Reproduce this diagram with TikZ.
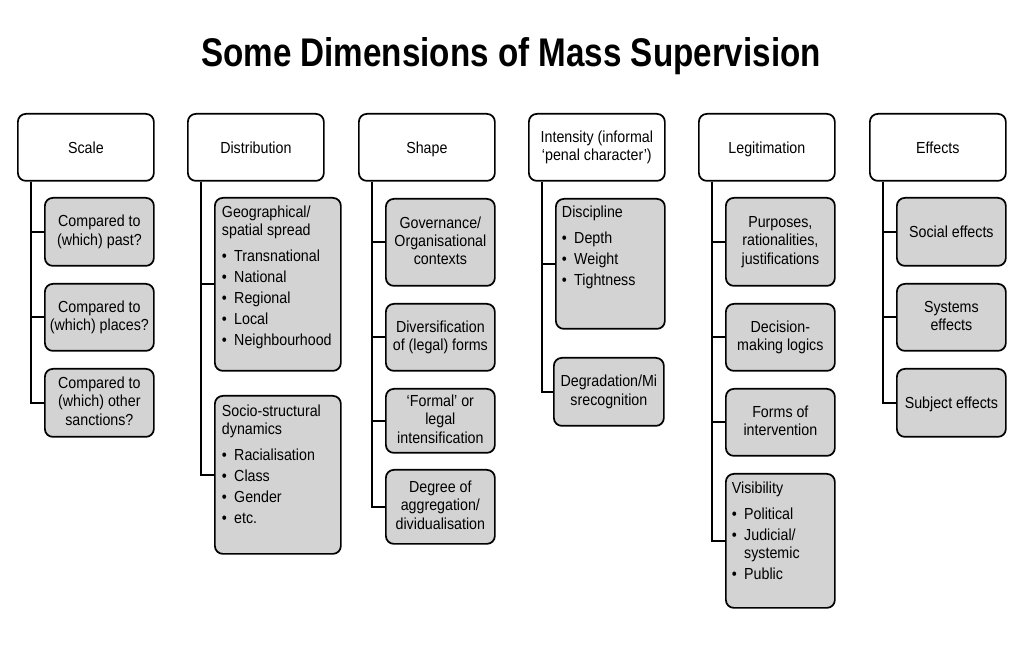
\documentclass[tikz,border=0pt]{standalone}
\usepackage{fontspec}
\setmainfont{Liberation Sans}
\newfontfamily\bodyfont[FakeStretch=0.89]{Liberation Sans}
\newfontfamily\titlefont[FakeStretch=0.83]{Liberation Sans}
\definecolor{boxgray}{RGB}{211,211,211}
\newcommand{\itm}[1]{\makebox[9.2pt][l]{\textbullet}#1}
\newcommand{\topstrut}{\rule{0pt}{11.6pt}}
\newcommand{\botstrut}{\rule[-2.5pt]{0pt}{2.5pt}}
\begin{document}
\begin{tikzpicture}[x=0.75pt,y=-0.75pt,
  txt/.style={font=\bodyfont\fontsize{12}{13.5}\selectfont},
  ctxt/.style={font=\bodyfont\fontsize{12}{13.8}\selectfont},
  sz/.style 2 args={minimum width=#1*0.75pt, minimum height=#2*0.75pt},
  ctr/.style={ctxt, align=center, execute at begin node=\topstrut, execute at end node=\botstrut},
  hdr/.style={ctr, draw, line width=1.3pt, rounded corners=6pt, fill=white, inner sep=0pt, anchor=north west, sz={136}{67}},
  sub/.style={ctr, draw, line width=1.3pt, rounded corners=6pt, fill=boxgray, inner sep=0pt, anchor=north west},
  lbox/.style={txt, draw, line width=1.3pt, rounded corners=6pt, fill=boxgray, inner sep=0pt, anchor=north west},
  lst/.style={txt, anchor=north west, inner sep=0pt, align=left},
  conn/.style={line width=1.3pt}]
\useasboundingbox (0,0) rectangle (1024,655);

\node[font=\titlefont\bfseries\fontsize{30}{36}\selectfont, anchor=base, inner sep=0pt] (title) at (511,67) {Some Dimensions of Mass Supervision};

% headers
\node[hdr] (scale) at (17,113) {Scale};
\node[hdr] (dist) at (187,113) {Distribution};
\node[hdr] (shape) at (358,113) {Shape};
\node[hdr] (inten) at (528,113) {Intensity (informal\\‘penal character’)};
\node[hdr] (legit) at (698,113) {Legitimation};
\node[hdr] (eff) at (869,113) {Effects};

% Scale
\node[sub, sz={109}{68}] (s1) at (44,197) {Compared to\\(which) past?};
\node[sub, sz={109}{67}] (s2) at (44,283) {Compared to\\(which) places?};
\node[sub, sz={109}{68}] (s3) at (44,368) {Compared to\\(which) other\\sanctions?};

% Distribution
\node[lbox, sz={126}{173}] (d1) at (214,197) {};
\node[lst] (d1t) at (221.7,206) {Geographical/\\spatial spread\\[5.8pt]\itm{Transnational}\\[2.25pt]\itm{National}\\[2.25pt]\itm{Regional}\\[2.25pt]\itm{Local}\\[2.25pt]\itm{Neighbourhood}};
\node[lbox, sz={126}{158}] (d2) at (214,395) {};
\node[lst] (d2t) at (221.7,405) {Socio-structural\\dynamics\\[5.8pt]\itm{Racialisation}\\[2.25pt]\itm{Class}\\[2.25pt]\itm{Gender}\\[2.25pt]\itm{etc.}};

% Shape
\node[sub, sz={109}{87}] (sh1) at (385,198) {Governance/\\Organisational\\contexts};
\node[sub, sz={109}{67}] (sh2) at (385,303) {Diversification\\of (legal) forms};
\node[sub, sz={109}{64}] (sh3) at (385,388) {‘Formal’ or\\legal\\intensification};
\node[sub, sz={109}{74}] (sh4) at (385,469) {Degree of\\aggregation/\\dividualisation};

% Intensity
\node[lbox, sz={109}{130}] (i1) at (555,198) {};
\node[lst] (i1t) at (561.7,206) {Discipline\\[5.8pt]\itm{Depth}\\[2.25pt]\itm{Weight}\\[2.25pt]\itm{Tightness}};
\node[sub, sz={110}{68}] (i2) at (553,357) {Degradation/Mi\\srecognition};

% Legitimation
\node[sub, sz={109}{88}] (l1) at (725,197) {Purposes,\\rationalities,\\justifications};
\node[sub, sz={109}{67}] (l2) at (725,303) {Decision-\\making logics};
\node[sub, sz={109}{67}] (l3) at (725,388) {Forms of\\intervention};
\node[lbox, sz={109}{134}] (l4) at (725,473) {};
\node[lst] (l4t) at (731.7,482) {Visibility\\[5.8pt]\itm{Political}\\[2.25pt]\itm{Judicial/}\\\hspace*{9.2pt}systemic\\[2.25pt]\itm{Public}};

% Effects
\node[sub, sz={109}{68}] (e1) at (896,197) {Social effects};
\node[sub, sz={109}{67}] (e2) at (896,283) {Systems\\effects};
\node[sub, sz={109}{68}] (e3) at (896,368) {Subject effects};

% connectors
\foreach \h/\c in {scale/s1,scale/s2,scale/s3,dist/d1,dist/d2,shape/sh1,shape/sh2,shape/sh3,shape/sh4,inten/i1,inten/i2,legit/l1,legit/l2,legit/l3,legit/l4,eff/e1,eff/e2,eff/e3}
  \draw[conn] ([xshift=10.5pt]\h.south west) |- (\c.west);
\end{tikzpicture}
\end{document}
